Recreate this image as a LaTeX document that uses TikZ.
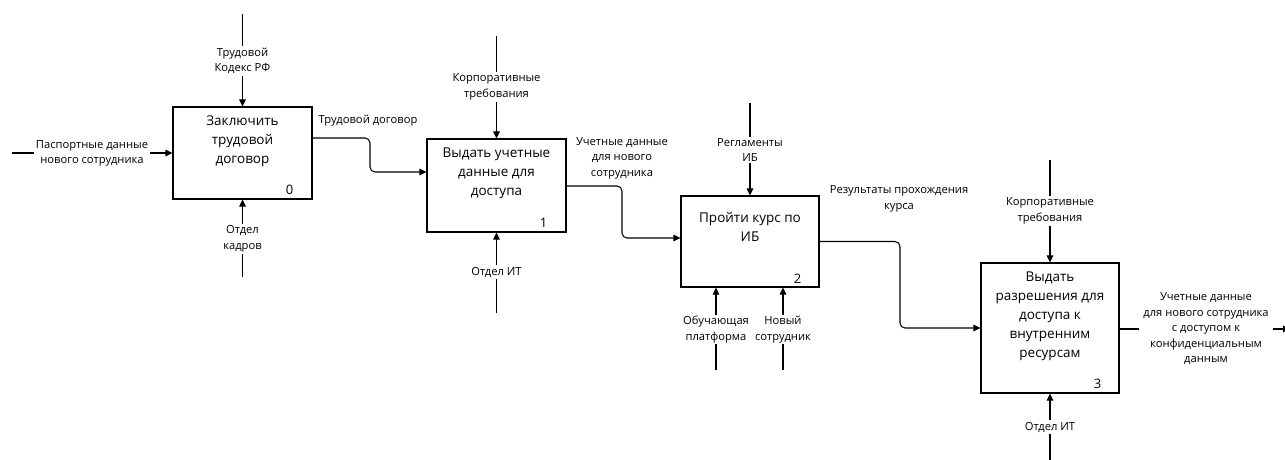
\documentclass[tikz,border=0pt]{standalone}
\usepackage{fontspec}
\setmainfont{Open Sans}
\usetikzlibrary{arrows.meta}
\tikzset{
  box/.style={draw, line width=1.1pt, minimum width=#1, inner sep=0pt},
  boxtext/.style={anchor=north, align=center, inner sep=0pt, font=\fontsize{13.5}{19}\selectfont},
  num/.style={anchor=center, inner sep=0pt, font=\fontsize{13}{15}\selectfont},
  lbl/.style={align=center, fill=white, inner sep=1.5pt, font=\fontsize{11.2}{15.5}\selectfont},
  lblnf/.style={align=center, inner sep=1pt, font=\fontsize{11.2}{15.5}\selectfont},
  conn/.style={line width=1.05pt},
  arr/.style={conn, -{Triangle[length=7pt,width=6.5pt]}},
}
\begin{document}
\begin{tikzpicture}[x=1pt,y=-1pt]
\useasboundingbox (0,0) rectangle (1285,459);
% boxes
\node[box=139pt, minimum height=92pt] (b0) at (242.5,153) {};
\node[box=139pt, minimum height=93pt] (b1) at (496.5,185.5) {};
\node[box=138pt, minimum height=91pt] (b2) at (750,241.5) {};
\node[box=138pt, minimum height=130pt] (b3) at (1050,328) {};
% box texts
\node[boxtext] (t0) at ([yshift=-9pt]b0.north) {Заключить\\трудовой\\договор};
\node[boxtext] (t1) at ([yshift=-9pt]b1.north) {Выдать учетные\\данные для\\доступа};
\node[boxtext] (t2) at ([yshift=-17pt]b2.north) {Пройти курс по\\ИБ};
\node[boxtext] (t3) at ([yshift=-9pt]b3.north) {Выдать\\разрешения для\\доступа к\\внутренним\\ресурсам};
% numbers
\node[num] (n0) at ([xshift=-23pt,yshift=10pt]b0.south east) {0};
\node[num] (n1) at ([xshift=-23pt,yshift=10pt]b1.south east) {1};
\node[num] (n2) at ([xshift=-22pt,yshift=9pt]b2.south east) {2};
\node[num] (n3) at ([xshift=-22pt,yshift=10pt]b3.south east) {3};
% free ends
\coordinate (in0) at (12,153);
\coordinate (c0) at (242.5,14);
\coordinate (m0) at (242.5,277);
\coordinate (c1) at (496.5,36);
\coordinate (m1) at (496.5,313);
\coordinate (c2) at (750,103);
\coordinate (m2a) at (716,370);
\coordinate (m2b) at (783,370);
\coordinate (c3) at (1050,160);
\coordinate (m3) at (1050,462);
\coordinate (out3) at (1290,329);
% connectors
\draw[arr] (in0) -- (b0.west);
\draw[arr] (c0) -- (b0.north);
\draw[arr] (m0) -- (b0.south);
\draw[arr] (c1) -- (b1.north);
\draw[arr] (m1) -- (b1.south);
\draw[arr] (c2) -- (b2.north);
\draw[arr] (m2a) -- (m2a |- b2.south);
\draw[arr] (m2b) -- (m2b |- b2.south);
\draw[arr] (c3) -- (b3.north);
\draw[arr] (m3) -- (b3.south);
\draw[arr, rounded corners=5pt] ([yshift=15pt]b0.east) -| (370,172) -- ([yshift=13.5pt]b1.west);
\draw[arr, rounded corners=5pt] ([yshift=-0.5pt]b1.east) -| (622,238) -- ([yshift=3.5pt]b2.west);
\draw[arr, rounded corners=5pt] (b2.east) -| (900,328) -- (b3.west);
\draw[arr] ([yshift=-1pt]b3.east) -- (out3);
% labels
\node[lbl] (l0) at (92,153.5) {Паспортные данные\\нового сотрудника};
\node[lbl] (l1) at (242.5,61) {Трудовой\\Кодекс РФ};
\node[lbl] (l2) at (242.5,239) {Отдел\\кадров};
\node[lblnf] (l3) at (368,121) {Трудовой договор};
\node[lbl] (l4) at (496.5,87) {Корпоративные\\требования};
\node[lbl] (l5) at (496.5,272) {Отдел ИТ};
\node[lblnf] (l6) at (622,158) {Учетные данные\\для нового\\сотрудника};
\node[lbl] (l7) at (750,150) {Регламенты\\ИБ};
\node[lbl] (l8) at (716,329.5) {Обучающая\\платформа};
\node[lbl] (l9) at (783,329.5) {Новый\\сотрудник};
\node[lblnf] (l10) at (899,199) {Результаты прохождения\\курса};
\node[lbl] (l11) at (1050,211) {Корпоративные\\требования};
\node[lbl] (l12) at (1050,427) {Отдел ИТ};
\node[lbl, inner sep=4pt] (l13) at (1206,329) {Учетные данные\\для нового сотрудника\\с доступом к\\конфиденциальным\\данным};
\end{tikzpicture}
\end{document}
